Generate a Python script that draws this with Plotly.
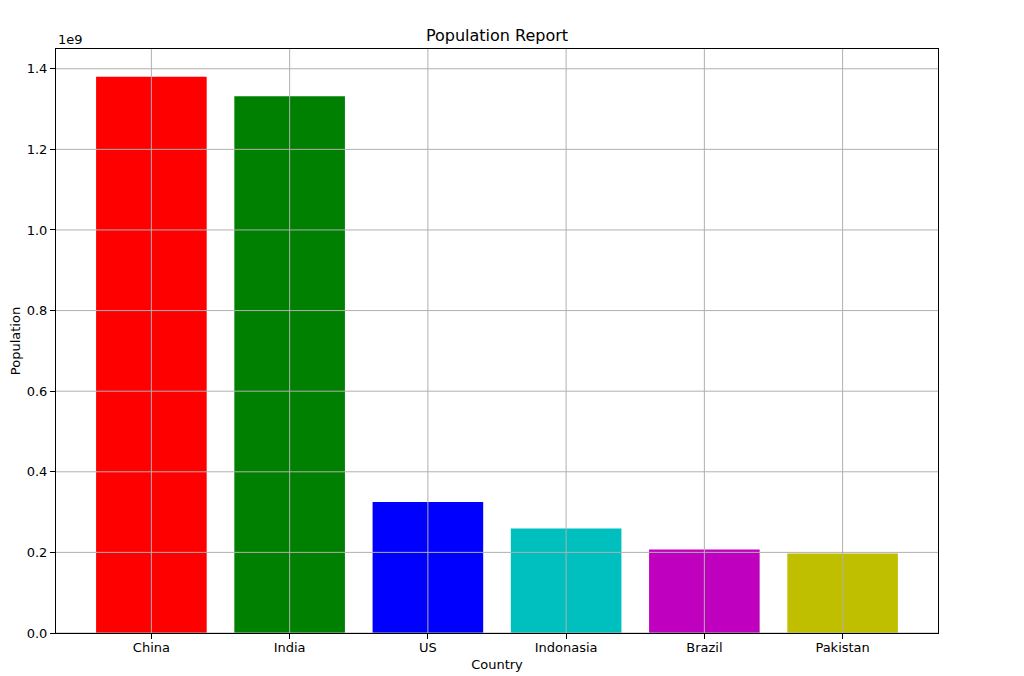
import plotly.graph_objects as go

countries = ["China", "India", "US", "Indonasia", "Brazil", "Pakistan"]
population = [1.38e9, 1.332e9, 0.325e9, 0.259e9, 0.207e9, 0.197e9]
bar_colours = ["#ff0000", "#008000", "#0000ff", "#00bfbf", "#bf00bf", "#bfbf00"]
y_ticks = [0, 0.2e9, 0.4e9, 0.6e9, 0.8e9, 1.0e9, 1.2e9, 1.4e9]
y_tick_text = ["%.1f" % (v / 1e9) for v in y_ticks]

font = "DejaVu Sans"
grid_colour = "#b0b0b0"

fig = go.Figure(go.Bar(
    x=countries,
    y=population,
    width=0.8,
    marker=dict(color=bar_colours, line=dict(width=0)),
    hoverinfo="skip"
))

# The page puts the figure 8px in from the top-left corner, so margins are shifted to match.
fig.update_layout(
    width=1024,
    height=676,
    margin=dict(l=48, r=94, t=41, b=51, autoexpand=False),
    paper_bgcolor="white",
    plot_bgcolor="white",
    font=dict(family=font, size=13, color="black"),
    title=dict(text="Population Report", x=0.5, xanchor="center", xref="paper",
               y=1 - 27 / 676, yanchor="middle", font=dict(size=16)),
    showlegend=False
)

fig.update_xaxes(
    range=[-0.69, len(countries) - 1 + 0.69],
    showgrid=False,
    showline=True, linecolor="black", linewidth=1, mirror=True,
    ticks="outside", ticklen=5, tickcolor="black", tickwidth=1,
    ticklabelstandoff=-3,
    automargin=False,
    title=dict(text="Country", standoff=6, font=dict(size=13))
)
fig.update_yaxes(
    range=[0, max(population) * 1.05],
    tickvals=y_ticks, ticktext=y_tick_text,
    showgrid=False, zeroline=False,
    showline=True, linecolor="black", linewidth=1, mirror=True,
    ticks="outside", ticklen=5, tickcolor="black", tickwidth=1,
    automargin=False,
    title=dict(text="Population", standoff=8, font=dict(size=13))
)

# Grid is drawn on top of the bars, as in the original.
for c in countries:
    fig.add_shape(type="line", xref="x", yref="paper", x0=c, x1=c, y0=0, y1=1,
                  line=dict(color=grid_colour, width=1), layer="above")
for v in y_ticks:
    fig.add_shape(type="line", xref="paper", yref="y", x0=0, x1=1, y0=v, y1=v,
                  line=dict(color=grid_colour, width=1), layer="above")

# Matplotlib-style offset label above the y axis.
fig.add_annotation(text="1e9", xref="paper", yref="paper", x=0, y=1,
                   xanchor="left", yanchor="bottom", showarrow=False,
                   font=dict(size=13))

fig.write_html("out.html")
